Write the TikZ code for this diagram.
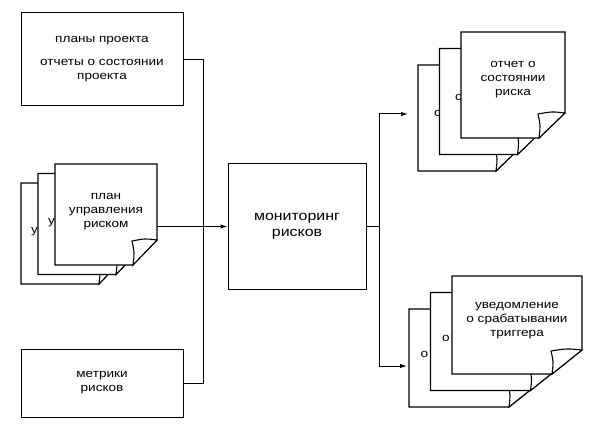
\documentclass[tikz,border=0pt]{standalone}
\usepackage{fontspec}
\setmainfont{Liberation Sans}[FakeStretch=1.18]
\usetikzlibrary{arrows.meta,calc}
\newcommand\docpage[7]{%
  \node[inner sep=0pt,outer sep=0pt,minimum width=#4pt,minimum height=#5pt,anchor=north west] (#1) at (#2,#3) {};
  \filldraw[docline] (#2,#3) -- ({#2+#4},#3) -- ({#2+#4},{#3+#5-#7}) -- ({#2+#4-#6},{#3+#5}) -- (#2,{#3+#5}) -- cycle;
  \filldraw[docline] ({#2+#4},{#3+#5-#7}) .. controls ({#2+#4-0.5*#6},{#3+#5-#7-1.5}) .. ({#2+#4-#6-1},{#3+#5-#7+1})
     .. controls ({#2+#4-#6+1.5},{#3+#5-0.5*#7}) .. ({#2+#4-#6},{#3+#5}) -- cycle;
}
\tikzset{
  docline/.style={line width=1.1pt,fill=white,line join=miter},
  box/.style={draw,line width=1pt,inner sep=0pt,align=center,font=\fontsize{11.5}{14}\selectfont},
  txt/.style={inner sep=0pt,align=center,font=\fontsize{11.5}{14}\selectfont},
  frag/.style={inner sep=0pt,font=\fontsize{11.5}{14}\selectfont},
  conn/.style={line width=1pt},
  arr/.style={line width=1pt,-{Latex[length=7pt,width=4.5pt]}}
}
\begin{document}
\begin{tikzpicture}[x=1pt,y=-1pt]
\useasboundingbox[fill=white] (0,0) rectangle (598,428);
% left boxes
\node[box,minimum width=162pt,minimum height=93pt] (tl) at (102,59.5)
  {планы проекта\\[9pt]отчеты о состоянии\\проекта};
\node[box,minimum width=162pt,minimum height=68pt] (bl) at (102,383)
  {метрики\\рисков};
% centre box
\node[box,minimum width=138pt,minimum height=125pt,font=\fontsize{13.5}{16}\selectfont] (mon) at (297,226.5)
  {мониторинг\\рисков};
% left document stack
\docpage{lp3}{21}{183}{102}{101}{24}{25}
\node[frag,anchor=west] (lp3t) at (31,232) {у};
\docpage{lp2}{38}{173.5}{102}{101}{24}{25}
\node[frag,anchor=west] (lp2t) at (48,223) {у};
\docpage{lp1}{55}{164}{102}{101}{24}{25}
\node[txt] (lp1t) at (106,212) {план\\управления\\риском};
% top right stack
\docpage{rr3}{418}{65}{104}{106}{26}{25}
\node[frag,anchor=west] (rr3t) at (434,113) {с};
\docpage{rr2}{439.5}{48.5}{104}{106}{26}{25}
\node[frag,anchor=west] (rr2t) at (455,97) {с};
\docpage{rr1}{461}{32}{104}{106}{26}{25}
\node[txt] (rr1t) at (513,80) {отчет о\\состоянии\\риска};
% bottom right stack
\docpage{tr3}{409}{309}{130}{98}{30}{24}
\node[frag] (tr3t) at (424.5,354) {о};
\docpage{tr2}{430.5}{292.5}{130}{98}{30}{24}
\node[frag] (tr2t) at (446,338) {о};
\docpage{tr1}{452}{276}{130}{98}{30}{24}
\node[txt] (tr1t) at (517,321) {уведомление\\о срабатывании\\триггера};
% connectors
\coordinate (bus) at (203,0);
\draw[conn] (tl.east) -| (bus |- bl.east) -- (bl.east);
\draw[arr] (lp1.east |- mon.west) -- (mon.west);
\coordinate (j) at (379,226.5);
\coordinate (ra) at (408,114);
\coordinate (rb) at (407,366);
\draw[conn] (mon.east) -- (j);
\draw[arr] (j) |- (ra);
\draw[arr] (j) |- (rb);
\end{tikzpicture}
\end{document}
